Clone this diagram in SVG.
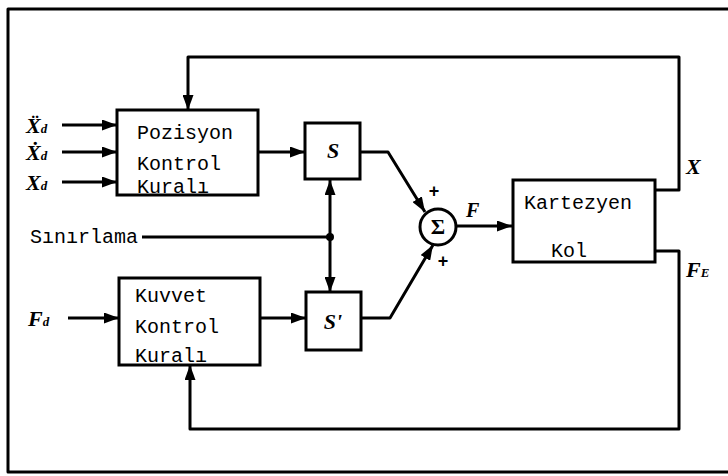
<svg xmlns="http://www.w3.org/2000/svg" width="728" height="476" viewBox="0 0 728 476">
<style>
.box{fill:#fff;stroke:#000;stroke-width:3}
.ln{fill:none;stroke:#000;stroke-width:3;stroke-linejoin:round}
.mono{font-family:"Liberation Mono","DejaVu Sans Mono",monospace;font-size:20px;fill:#000}
.sym{font-family:"Liberation Serif","DejaVu Serif",serif;font-weight:bold;font-style:italic;fill:#000}
.sub{font-size:13px}
.plus{font-family:"Liberation Sans",sans-serif;font-size:18px;font-weight:bold;fill:#000}
</style>
<defs>
<marker id="ah" markerUnits="userSpaceOnUse" markerWidth="15" markerHeight="11" refX="15" refY="5.5" orient="auto">
<path d="M0,0 L15,5.5 L0,11 z" fill="#000"/>
</marker>
<marker id="ahs" markerUnits="userSpaceOnUse" markerWidth="15" markerHeight="11" refX="0" refY="5.5" orient="auto">
<path d="M15,0 L0,5.5 L15,11 z" fill="#000"/>
</marker>
</defs>
<rect width="728" height="476" fill="#fff"/>
<path class="ln" d="M728,9 H8 V472 H728"/>
<g id="connectors">
<line class="ln" x1="62" y1="125" x2="117" y2="125" marker-end="url(#ah)"/>
<line class="ln" x1="62" y1="152" x2="117" y2="152" marker-end="url(#ah)"/>
<line class="ln" x1="62" y1="182" x2="117" y2="182" marker-end="url(#ah)"/>
<line class="ln" x1="68" y1="318" x2="119" y2="318" marker-end="url(#ah)"/>
<line class="ln" x1="258" y1="152" x2="305" y2="152" marker-end="url(#ah)"/>
<line class="ln" x1="260" y1="318" x2="306" y2="318" marker-end="url(#ah)"/>
<path class="ln" d="M142,237 H330"/>
<line class="ln" x1="330" y1="180" x2="330" y2="292" marker-start="url(#ahs)" marker-end="url(#ah)"/>
<circle cx="330" cy="237" r="4" fill="#000"/>
<path class="ln" d="M360,152 H388 L425,212" marker-end="url(#ah)"/>
<path class="ln" d="M361,318 H390 L433,245" marker-end="url(#ah)"/>
<line class="ln" x1="456" y1="226" x2="512" y2="226" marker-end="url(#ah)"/>
<path class="ln" d="M655,190 H679 V57 H188 V110" marker-end="url(#ah)"/>
<path class="ln" d="M655,251 H679 V429 H190 V365" marker-end="url(#ah)"/>
</g>
<text class="sym" x="26" y="133" font-size="22">Ẍ<tspan class="sub">d</tspan></text>
<text class="sym" x="26" y="160" font-size="22">Ẋ<tspan class="sub">d</tspan></text>
<text class="sym" x="26" y="190" font-size="22">X<tspan class="sub">d</tspan></text>
<text class="sym" x="28" y="326" font-size="22">F<tspan class="sub">d</tspan></text>
<text class="mono" x="30" y="243">Sınırlama</text>
<g id="pozisyon">
<rect class="box" x="117" y="110" width="141" height="85"/>
<text class="mono" x="137" y="139">Pozisyon</text>
<text class="mono" x="137" y="170">Kontrol</text>
<text class="mono" x="137" y="193">Kuralı</text>
</g>
<g id="kuvvet">
<rect class="box" x="119" y="278" width="141" height="87"/>
<text class="mono" x="135" y="302">Kuvvet</text>
<text class="mono" x="135" y="333">Kontrol</text>
<text class="mono" x="135" y="362">Kuralı</text>
</g>
<g id="s">
<rect class="box" x="305" y="123" width="55" height="56"/>
<text class="sym" x="333" y="158" font-size="22" text-anchor="middle">S</text>
</g>
<g id="sprime">
<rect class="box" x="306" y="292" width="55" height="58"/>
<text class="sym" x="333" y="329" font-size="22" text-anchor="middle">S'</text>
</g>
<g id="sum">
<circle cx="438" cy="227" r="18" fill="#fff" stroke="#000" stroke-width="3"/>
<text x="438" y="234" font-family="Liberation Serif,serif" font-size="22" font-weight="bold" text-anchor="middle">Σ</text>
<text class="plus" x="434" y="197" text-anchor="middle">+</text>
<text class="plus" x="443" y="267" text-anchor="middle">+</text>
</g>
<text class="sym" x="466" y="217" font-size="20">F</text>
<g id="kartezyen">
<rect class="box" x="513" y="180" width="142" height="82"/>
<text class="mono" x="524" y="209">Kartezyen</text>
<text class="mono" x="551" y="257">Kol</text>
</g>
<text class="sym" x="686" y="174" font-size="22">X</text>
<text class="sym" x="686" y="277" font-size="22">F<tspan class="sub">E</tspan></text>
</svg>
